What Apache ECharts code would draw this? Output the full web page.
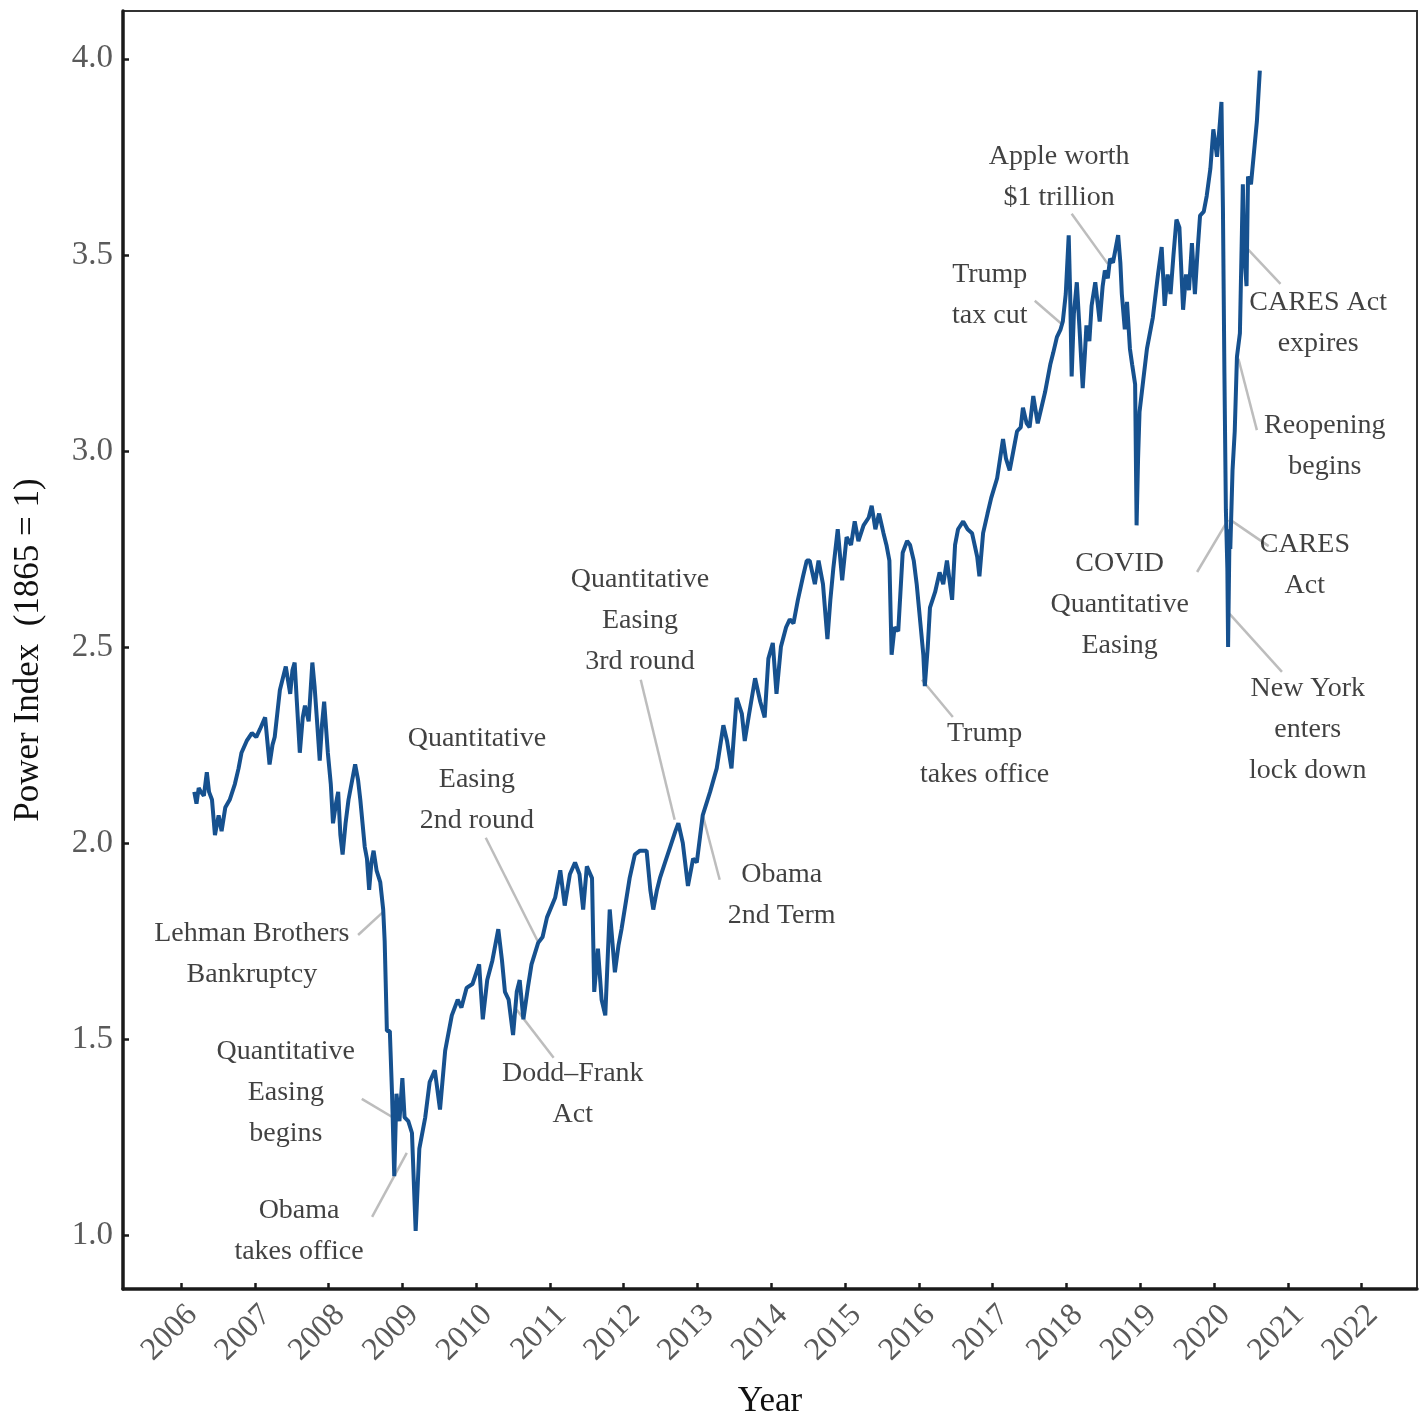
<!DOCTYPE html>
<html>
<head>
<meta charset="utf-8">
<script src="https://cdn.jsdelivr.net/npm/echarts@6/dist/echarts.min.js"></script>
<style>
html,body{margin:0;padding:0;background:#fff;overflow:hidden;}
#chart{width:1422px;height:1415px;}
</style>
</head>
<body>
<div id="chart"></div>
<script>
// ---- Data ----
const years = [
  2006.18,2006.21,2006.24,2006.27,2006.31,2006.35,2006.38,2006.42,2006.46,2006.51,2006.55,2006.60,2006.66,2006.73,2006.78,2006.82,2006.89,2006.96,
  2007.02,2007.07,2007.14,2007.17,2007.20,2007.24,2007.27,2007.34,2007.38,2007.42,2007.48,2007.51,2007.54,2007.57,2007.61,2007.65,2007.68,2007.73,2007.78,2007.81,2007.84,2007.88,2007.91,2007.94,2007.99,
  2008.03,2008.06,2008.10,2008.13,2008.16,2008.19,2008.23,2008.27,2008.32,2008.36,2008.40,2008.43,2008.49,2008.52,2008.55,2008.58,2008.61,2008.65,2008.70,2008.74,2008.76,2008.78,2008.79,2008.83,2008.86,2008.89,2008.92,2008.96,
  2009.00,2009.03,2009.08,2009.13,2009.18,2009.23,2009.31,2009.37,2009.44,2009.51,2009.58,2009.67,2009.75,2009.80,2009.87,2009.95,
  2010.04,2010.09,2010.15,2010.22,2010.30,2010.35,2010.39,2010.44,2010.50,2010.55,2010.59,2010.64,2010.70,2010.75,2010.84,2010.90,2010.96,
  2011.07,2011.14,2011.20,2011.27,2011.34,2011.40,2011.45,2011.50,2011.57,2011.60,2011.65,2011.70,2011.75,2011.81,2011.88,2011.93,2011.97,
  2012.08,2012.15,2012.22,2012.31,2012.36,2012.40,2012.45,2012.49,2012.56,2012.63,2012.70,2012.74,2012.80,2012.87,2012.94,2012.99,
  2013.07,2013.17,2013.26,2013.35,2013.40,2013.46,2013.53,2013.60,2013.64,2013.70,2013.78,2013.85,2013.91,2013.96,
  2014.02,2014.07,2014.13,2014.20,2014.25,2014.30,2014.36,2014.43,2014.48,2014.52,2014.59,2014.64,2014.70,2014.76,2014.80,2014.84,2014.90,2014.96,
  2015.02,2015.08,2015.13,2015.18,2015.25,2015.32,2015.36,2015.41,2015.46,2015.52,2015.56,2015.60,2015.63,2015.67,2015.72,2015.78,2015.84,2015.88,2015.93,2015.97,
  2016.02,2016.06,2016.08,2016.12,2016.15,2016.22,2016.28,2016.33,2016.38,2016.45,2016.49,2016.53,2016.60,2016.66,2016.72,2016.79,2016.82,2016.87,2016.93,2016.98,
  2017.06,2017.14,2017.18,2017.23,2017.28,2017.33,2017.38,2017.41,2017.46,2017.50,2017.55,2017.61,2017.66,2017.71,2017.78,2017.82,2017.87,2017.92,2017.95,2017.99,
  2018.03,2018.05,2018.07,2018.10,2018.14,2018.18,2018.22,2018.25,2018.27,2018.31,2018.34,2018.39,2018.42,2018.45,2018.49,2018.52,2018.56,2018.59,2018.63,2018.66,2018.70,2018.73,2018.75,2018.79,2018.82,2018.86,2018.89,2018.93,2018.95,2018.97,2018.99,
  2019.04,2019.09,2019.17,2019.24,2019.29,2019.33,2019.37,2019.41,2019.45,2019.49,2019.53,2019.58,2019.62,2019.66,2019.70,2019.74,2019.78,2019.81,2019.86,2019.90,2019.95,2019.99,
  2020.04,2020.08,2020.10,2020.12,2020.14,2020.16,2020.18,2020.19,2020.21,2020.22,2020.25,2020.28,2020.31,2020.35,2020.39,2020.41,2020.44,2020.46,2020.50,2020.55,2020.58,2020.62
];
const powerIndex = [
  2.13,2.10,2.14,2.13,2.12,2.18,2.13,2.11,2.02,2.07,2.03,2.09,2.11,2.15,2.19,2.23,2.26,2.28,
  2.27,2.29,2.32,2.26,2.20,2.25,2.27,2.39,2.42,2.45,2.38,2.44,2.46,2.36,2.23,2.32,2.35,2.31,2.46,2.40,2.32,2.21,2.30,2.36,2.23,
  2.15,2.05,2.10,2.13,2.02,1.97,2.05,2.11,2.16,2.20,2.16,2.11,1.99,1.96,1.88,1.95,1.98,1.93,1.90,1.83,1.75,1.60,1.52,1.52,1.36,1.15,1.36,1.29,
  1.40,1.30,1.29,1.26,1.01,1.22,1.30,1.39,1.42,1.32,1.47,1.56,1.60,1.58,1.63,1.64,
  1.69,1.55,1.65,1.70,1.78,1.70,1.62,1.60,1.51,1.62,1.65,1.55,1.63,1.69,1.745,1.76,1.81,
  1.86,1.93,1.84,1.92,1.95,1.92,1.83,1.94,1.91,1.62,1.73,1.60,1.56,1.83,1.67,1.74,1.78,
  1.91,1.97,1.98,1.98,1.88,1.83,1.88,1.91,1.95,1.99,2.03,2.05,2.00,1.89,1.96,1.95,
  2.07,2.13,2.19,2.30,2.26,2.19,2.37,2.33,2.26,2.33,2.42,2.36,2.32,2.47,
  2.51,2.38,2.50,2.55,2.57,2.56,2.62,2.68,2.72,2.72,2.66,2.72,2.66,2.52,2.62,2.70,2.80,2.67,
  2.78,2.76,2.82,2.77,2.81,2.83,2.86,2.80,2.84,2.79,2.76,2.72,2.48,2.55,2.54,2.74,2.77,2.76,2.72,2.66,
  2.56,2.48,2.40,2.50,2.60,2.64,2.69,2.66,2.72,2.62,2.76,2.80,2.82,2.80,2.79,2.73,2.68,2.79,2.84,2.88,
  2.93,3.03,2.98,2.95,3.00,3.05,3.06,3.11,3.07,3.06,3.14,3.07,3.11,3.15,3.22,3.25,3.29,3.31,3.33,3.40,
  3.55,3.40,3.19,3.35,3.43,3.30,3.16,3.25,3.32,3.28,3.37,3.43,3.38,3.33,3.42,3.46,3.44,3.49,3.48,3.51,3.55,3.48,3.40,3.31,3.38,3.26,3.22,3.17,2.81,2.98,3.10,
  3.18,3.26,3.34,3.45,3.52,3.37,3.45,3.40,3.50,3.59,3.57,3.36,3.45,3.41,3.53,3.40,3.52,3.60,3.61,3.65,3.72,3.82,
  3.75,3.84,3.89,3.62,3.20,2.85,2.70,2.50,2.80,2.75,2.95,3.05,3.24,3.30,3.68,3.50,3.42,3.70,3.68,3.78,3.84,3.97
];
const xTickLabels = [2006,2007,2008,2009,2010,2011,2012,2013,2014,2015,2016,2017,2018,2019,2020,2021,2022];
const yTickLabels = [1.0,1.5,2.0,2.5,3.0,3.5,4.0];

// annotation texts, anchor positions and leader-line ends (data units)
const annoText = [
  'Lehman Brothers\nBankruptcy',
  'Quantitative\nEasing\nbegins',
  'Obama\ntakes office',
  'Quantitative\nEasing\n2nd round',
  'Dodd\u2013Frank\nAct',
  'Quantitative\nEasing\n3rd round',
  'Obama\n2nd Term',
  'Trump\ntakes office',
  'Trump\ntax cut',
  'Apple worth\n$1 trillion',
  'COVID\nQuantitative\nEasing',
  'CARES Act\nexpires',
  'Reopening\nbegins',
  'CARES\nAct',
  'New York\nenters\nlock down'
];
const annoAt = [
  [2006.96,1.717],[2007.42,1.362],[2007.60,1.009],[2010.01,2.161],[2011.31,1.358],
  [2012.22,2.566],[2014.14,1.866],[2016.89,2.226],[2016.96,3.397],[2017.90,3.698],
  [2018.72,2.607],[2021.41,3.327],[2021.50,3.011],[2021.23,2.709],[2021.27,2.288]
];
const leaderFrom = [
  [2008.40,1.765],[2008.45,1.347],[2008.59,1.046],[2010.13,2.013],[2011.05,1.452],
  [2012.23,2.416],[2013.30,1.906],[2016.46,2.321],[2017.57,3.383],[2018.07,3.605],
  [2019.77,2.691],[2020.90,3.426],[2020.58,3.053],[2020.74,2.757],[2020.92,2.436]
];
const leaderTo = [
  [2008.74,1.824],[2008.93,1.293],[2009.06,1.209],[2010.84,1.747],[2010.55,1.574],
  [2012.69,2.059],[2013.07,2.071],[2016.04,2.416],[2017.95,3.321],[2018.56,3.477],
  [2020.19,2.824],[2020.45,3.516],[2020.33,3.235],[2020.22,2.824],[2020.21,2.584]
];

const FONT = 'Liberation Serif';
const chart = echarts.init(document.getElementById('chart'), null, {renderer:'canvas', width:1422, height:1415});

chart.setOption({
  animation: false,
  backgroundColor: '#ffffff',
  grid: {left:123, top:11, width:1294, height:1278, show:true, borderColor:'#333', borderWidth:2,
    containLabel:false, outerBoundsMode:'none'},
  xAxis: {
    type:'value', min:2005.214, max:2022.75,
    name:'Year', nameLocation:'middle', nameGap:95,
    nameTextStyle:{fontFamily:FONT, fontSize:35, color:'#111'},
    axisLine:{show:true, lineStyle:{color:'#1a1a1a', width:3.5}},
    axisTick:{show:true, inside:true, length:6, lineStyle:{color:'#1a1a1a', width:2.5}, customValues:xTickLabels},
    axisLabel:{rotate:45, margin:10, verticalAlign:'top', fontFamily:FONT, fontSize:32, color:'#5a5a5a', customValues:xTickLabels,
      formatter:function(v){return String(Math.round(v));}},
    splitLine:{show:false}
  },
  yAxis: {
    type:'value', min:0.862, max:4.122,
    name:'Power Index  (1865 = 1)', nameLocation:'middle', nameGap:77,
    nameTextStyle:{fontFamily:FONT, fontSize:35, color:'#111'},
    axisLine:{show:true, lineStyle:{color:'#1a1a1a', width:3.5}},
    axisTick:{show:true, inside:true, length:6, lineStyle:{color:'#1a1a1a', width:2.5}, customValues:yTickLabels},
    axisLabel:{margin:10, fontFamily:FONT, fontSize:33, color:'#5a5a5a', customValues:yTickLabels,
      formatter:function(v){return v.toFixed(1);}},
    splitLine:{show:false}
  },
  series: [
    {
      type:'lines', coordinateSystem:'cartesian2d', silent:true, z:1,
      lineStyle:{color:'#bdbdbd', width:2.5, opacity:1},
      data: leaderFrom.map(function(f,i){return {coords:[f, leaderTo[i]]};})
    },
    {
      type:'line', showSymbol:false, z:3,
      lineStyle:{color:'#16518f', width:4},
      data: years.map(function(y,i){return [y, powerIndex[i]];})
    },
    {
      type:'scatter', symbolSize:1, z:4, silent:true,
      itemStyle:{color:'rgba(0,0,0,0)'},
      label:{show:true, position:'inside', align:'center', verticalAlign:'middle',
        fontFamily:FONT, fontSize:28, lineHeight:41, color:'#111',
        formatter:function(p){return annoText[p.dataIndex];}},
      data: annoAt
    }
  ]
});
</script>
</body>
</html>
